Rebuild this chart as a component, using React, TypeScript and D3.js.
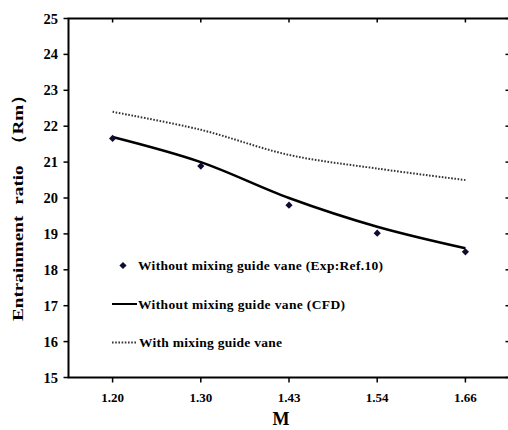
import React from "react";
import * as d3 from "d3";

const categories = ["1.20", "1.30", "1.43", "1.54", "1.66"];
const expValues = [21.66, 20.89, 19.8, 19.02, 18.5];
const cfdValues = [21.7, 21.0, 20.0, 19.2, 18.6];
const vaneValues = [22.4, 21.9, 21.2, 20.82, 20.5];
const yTicks = [15, 16, 17, 18, 19, 20, 21, 22, 23, 24, 25];
const legendLabels = [
  "Without mixing guide vane (Exp:Ref.10)",
  "Without mixing guide vane (CFD)",
  "With mixing guide vane",
];
const legendWidths = [245, 207, 143];

const W = 508;
const H = 430;
const left = 68.5;
const right = 509.5;
const top = 18.5;
const bottom = 377.5;
const font = "'Liberation Serif', 'Times New Roman', serif";

// diamond marker: square rotated 45 degrees
const diamondPath = (r: number) => `M0,${-r}L${r},0L0,${r}L${-r},0Z`;

export default function App() {
  const x = d3.scalePoint<string>().domain(categories).range([left, right]).padding(0.5);
  const y = d3.scaleLinear().domain([15, 25]).range([bottom, top]);

  const line = d3
    .line<number>()
    .x((_, i) => x(categories[i]) as number)
    .y((d) => y(d))
    .curve(d3.curveCatmullRom.alpha(0.5));

  const diamond = diamondPath(3.6);
  const dotted = "1.6,1.6";

  return (
    <svg width={W} height={H} style={{ position: "absolute", left: 0, top: 0 }}>
      <rect width={W} height={H} fill="#fff" />
      {/* frame */}
      <rect x={left} y={top} width={right - left} height={bottom - top} fill="none" stroke="#000" strokeWidth={2} />
      {/* y ticks */}
      {yTicks.map((t) => (
        <g key={t}>
          <line x1={left - 5} x2={left} y1={y(t)} y2={y(t)} stroke="#000" strokeWidth={1.5} />
          <line x1={right - 4} x2={right} y1={y(t)} y2={y(t)} stroke="#000" strokeWidth={1.5} />
          <text
            x={58}
            y={y(t)}
            dy="0.35em"
            textAnchor="end"
            fontFamily={font}
            fontWeight="bold"
            fontSize={14.5}
            fill="#000"
          >
            {t}
          </text>
        </g>
      ))}
      {/* x ticks */}
      {categories.map((c) => (
        <g key={c}>
          <line x1={x(c)} x2={x(c)} y1={bottom} y2={bottom + 5} stroke="#000" strokeWidth={1.5} />
          <line x1={x(c)} x2={x(c)} y1={top} y2={top + 4} stroke="#000" strokeWidth={1.5} />
          <text
            x={x(c)}
            y={402}
            textAnchor="middle"
            fontFamily={font}
            fontWeight="bold"
            fontSize={13}
            fill="#000"
          >
            {c}
          </text>
        </g>
      ))}
      {/* axis titles */}
      <text x={281} y={425} textAnchor="middle" fontFamily={font} fontWeight="bold" fontSize={18} fill="#000">
        M
      </text>
      <text
        transform={`translate(23,203) rotate(-90)`}
        textAnchor="middle"
        fontFamily={font}
        fontWeight="bold"
        fontSize={15.5}
        fill="#000"
        textLength={236}
        lengthAdjust="spacingAndGlyphs"
        style={{ wordSpacing: "5px" }}
      >
        Entrainment ratio （Rm）
      </text>

      {/* series */}
      <path d={line(vaneValues) as string} fill="none" stroke="#333" strokeWidth={2} strokeDasharray={dotted} />
      <path d={line(cfdValues) as string} fill="none" stroke="#000" strokeWidth={2.5} />
      {expValues.map((v, i) => (
        <path key={i} d={diamond} transform={`translate(${x(categories[i])},${y(v)})`} fill="#0d0d33" />
      ))}

      {/* legend */}
      <g fontFamily={font} fontWeight="bold" fontSize={13.5} fill="#000">
        <path d={diamond} transform="translate(123,265.5)" fill="#0d0d33" />
        <text x={138} y={270} textLength={legendWidths[0]} lengthAdjust="spacing">{legendLabels[0]}</text>
        <line x1={112} x2={137} y1={304} y2={304} stroke="#000" strokeWidth={2} />
        <text x={138} y={308.5} textLength={legendWidths[1]} lengthAdjust="spacing">{legendLabels[1]}</text>
        <line x1={112} x2={137} y1={342.5} y2={342.5} stroke="#333" strokeWidth={2} strokeDasharray={dotted} />
        <text x={139} y={347} textLength={legendWidths[2]} lengthAdjust="spacing">{legendLabels[2]}</text>
      </g>
    </svg>
  );
}
